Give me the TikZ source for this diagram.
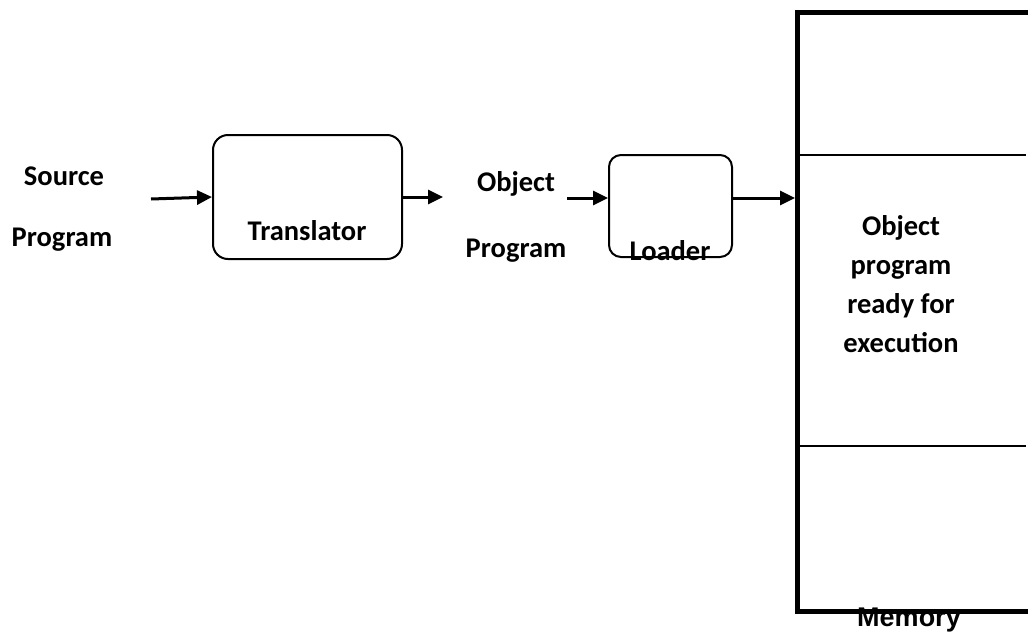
\documentclass[tikz,border=0pt]{standalone}
\usepackage{fontspec}
\setmainfont{Carlito}
\newfontfamily\arialfont{Liberation Sans}
\usetikzlibrary{arrows.meta}
\begin{document}
\begin{tikzpicture}[x=1pt,y=-1pt,
  lbl/.style={font=\fontsize{28.5}{34}\selectfont\bfseries, inner sep=0pt, anchor=base},
  procbox/.style={draw, line width=2pt, rounded corners=15pt, inner sep=0pt},
  flow/.style={line width=3pt, -{Triangle[length=15pt,width=14pt]}},
  membox/.style={draw, line width=5pt, inner sep=0pt, anchor=north west},
  divider/.style={line width=1.5pt}]
\useasboundingbox (0,0) rectangle (1028,635);
% labels
\node[lbl] (src1) at (64,185) {Source};
\node[lbl] (src2) at (62,246) {Program};
\node[lbl] (obj1) at (516,191) {Object};
\node[lbl] (obj2) at (516,257) {Program};
% boxes
\node[procbox, minimum width=189pt, minimum height=124pt] (trans) at (307.5,197) {};
\node[lbl] (transtxt) at (307,240) {Translator};
\node[procbox, minimum width=123pt, minimum height=102pt, rounded corners=12pt] (loader) at (670.5,206) {};
\node[lbl] (loadtxt) at (670,260) {Loader};
% memory
\node[membox, minimum width=270pt, minimum height=599pt] (mem) at (795,10) {};
\coordinate (d1) at (1026,155);
\coordinate (d2) at (1026,446);
\draw[divider] (mem.west |- d1) -- (d1);
\draw[divider] (mem.west |- d2) -- (d2);
\node[font=\fontsize{28.5}{39}\selectfont\bfseries, align=center, inner sep=0pt, anchor=north] (memtxt) at (901,215) {Object\\program\\ready for\\execution};
\node[font=\arialfont\bfseries\fontsize{27}{32}\selectfont, inner sep=0pt, anchor=base] (memlbl) at (909,626) {Memory};
% connectors
\coordinate (sin) at (151,199);
\coordinate (tout) at (443,197);
\coordinate (oin) at (567,198);
\coordinate (lvl) at (0,198);
\draw[flow] (sin) -- (trans.west);
\draw[flow] (trans.east) -- (tout);
\draw[flow] (oin) -- (loader.west |- lvl);
\draw[flow] (loader.east |- lvl) -- (mem.west |- lvl);
\end{tikzpicture}
\end{document}
